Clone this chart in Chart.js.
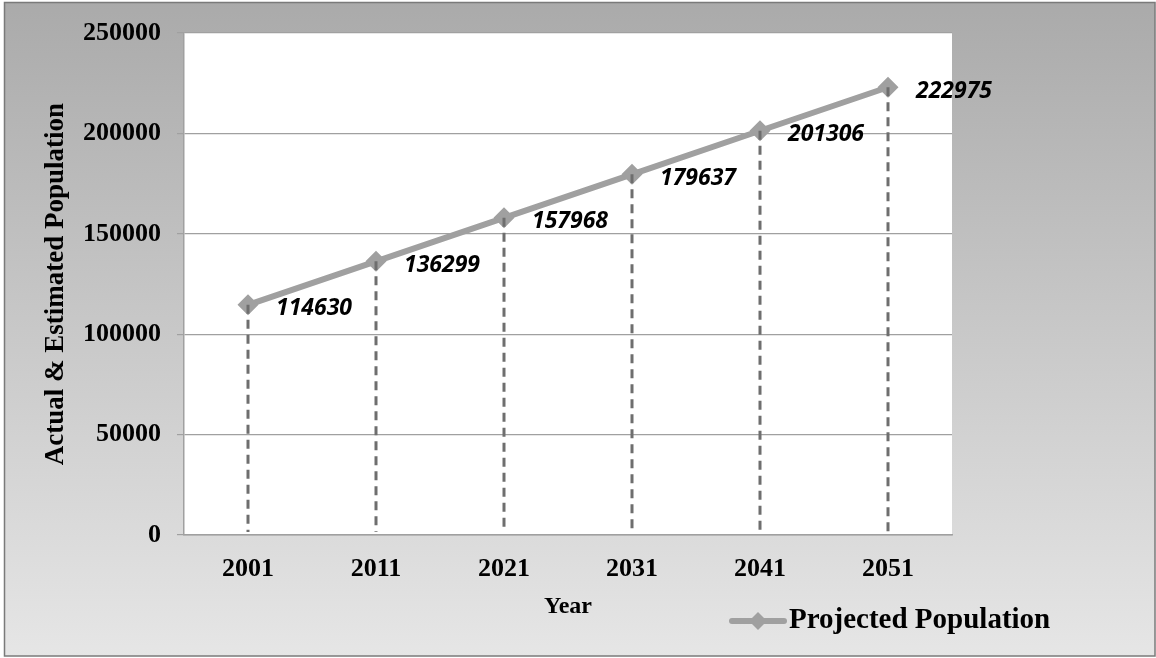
<!DOCTYPE html>
<html>
<head>
<meta charset="utf-8">
<title>Projected Population</title>
<script src="https://cdn.jsdelivr.net/npm/chart.js@4.4.0/dist/chart.umd.min.js"></script>
<style>
  html, body { margin: 0; padding: 0; background: #fff; }
  #wrap { width: 1156px; height: 658px; }
</style>
</head>
<body>
<div id="wrap"><canvas id="popChart" width="1156" height="658"></canvas></div>
<script>
// Census year and projected values
const years = ['2001', '2011', '2021', '2031', '2041', '2051'];
const population = [114630, 136299, 157968, 179637, 201306, 222975];
const yTicks = [0, 50000, 100000, 150000, 200000, 250000];
const seriesName = 'Projected Population';
const yTitle = 'Actual & Estimated Population';
const xTitle = 'Year';

const serif = '"Liberation Serif", "Times New Roman", serif';
const lineGray = '#a0a0a0';
const dropGray = '#6e6e6e';

// Gray gradient panel with a thin frame, white plot area
const framePlugin = {
    id: 'framePlugin',
    beforeDraw(chart) {
        const ctx = chart.ctx;
        const area = chart.chartArea;
        ctx.save();
        ctx.fillStyle = '#ffffff';
        ctx.fillRect(0, 0, chart.width, chart.height);
        const grad = ctx.createLinearGradient(0, 0, 0, chart.height);
        grad.addColorStop(0, '#aaaaaa');
        grad.addColorStop(1, '#e6e6e6');
        ctx.fillStyle = grad;
        ctx.fillRect(4, 2, chart.width - 5, chart.height - 4);
        ctx.strokeStyle = '#7a7a7a';
        ctx.lineWidth = 1.5;
        ctx.strokeRect(4.5, 2.5, chart.width - 5.5, chart.height - 4.5);
        ctx.fillStyle = '#ffffff';
        ctx.fillRect(area.left, area.top, area.right - area.left, area.bottom - area.top);
        ctx.restore();
    }
};

// Dashed drop lines and value labels
const dropLinePlugin = {
    id: 'dropLinePlugin',
    afterDatasetsDraw(chart) {
        const ctx = chart.ctx;
        const meta = chart.getDatasetMeta(0);
        const bottom = chart.scales.y.getPixelForValue(0);
        ctx.save();
        ctx.strokeStyle = dropGray;
        ctx.lineWidth = 3;
        ctx.setLineDash([9, 6]);
        meta.data.forEach(pt => {
            ctx.beginPath();
            ctx.moveTo(pt.x, pt.y);
            ctx.lineTo(pt.x, bottom - 3);
            ctx.stroke();
        });
        ctx.setLineDash([]);
        ctx.fillStyle = '#000';
        ctx.font = 'italic 700 23px "Open Sans", sans-serif';
        ctx.textBaseline = 'middle';
        ctx.textAlign = 'left';
        meta.data.forEach((pt, i) => {
            ctx.fillText(String(population[i]), pt.x + 28, pt.y + 4);
        });
        ctx.restore();
    }
};

// Legend entry drawn at the lower right
const legendPlugin = {
    id: 'legendPlugin',
    afterDraw(chart) {
        const ctx = chart.ctx;
        const y = 621;
        ctx.save();
        ctx.strokeStyle = lineGray;
        ctx.lineWidth = 6;
        ctx.lineCap = 'round';
        ctx.beginPath();
        ctx.moveTo(732, y);
        ctx.lineTo(784, y);
        ctx.stroke();
        ctx.fillStyle = lineGray;
        ctx.beginPath();
        ctx.moveTo(758, y - 9);
        ctx.lineTo(767, y);
        ctx.lineTo(758, y + 9);
        ctx.lineTo(749, y);
        ctx.closePath();
        ctx.fill();
        ctx.fillStyle = '#000';
        ctx.font = 'bold 29px ' + serif;
        ctx.textBaseline = 'middle';
        ctx.fillText(seriesName, 789, y);
        ctx.restore();
    }
};

new Chart(document.getElementById('popChart'), {
    type: 'line',
    data: {
        labels: years,
        datasets: [{
            label: seriesName,
            data: population,
            borderColor: lineGray,
            backgroundColor: lineGray,
            borderWidth: 6,
            pointStyle: 'rectRot',
            pointRadius: 10.5,
            pointHoverRadius: 10.5,
            pointBorderWidth: 0,
            tension: 0
        }]
    },
    options: {
        responsive: false,
        animation: false,
        devicePixelRatio: 1,
        layout: { padding: { left: 0, top: 33, right: 204, bottom: 0 } },
        plugins: {
            legend: { display: false },
            tooltip: { enabled: false }
        },
        scales: {
            x: {
                offset: true,
                grid: { display: false, drawTicks: false },
                border: { display: true, color: lineGray, width: 1.5 },
                ticks: {
                    color: '#000',
                    font: { family: serif, size: 26, weight: 'bold' },
                    padding: 19,
                    maxRotation: 0
                },
                title: {
                    display: true,
                    text: xTitle,
                    color: '#000',
                    font: { family: serif, size: 24, weight: 'bold' },
                    padding: { top: 0, bottom: 37 }
                },
                afterFit(scale) { scale.height = 123; }
            },
            y: {
                min: 0,
                max: 250000,
                afterBuildTicks(scale) { scale.ticks = yTicks.map(v => ({ value: v })); },
                grid: { color: lineGray, lineWidth: 1.2, tickLength: 7, tickColor: lineGray },
                border: { display: true, color: lineGray, width: 1.5 },
                ticks: {
                    color: '#000',
                    font: { family: serif, size: 26, weight: 'bold' },
                    padding: 16,
                    callback: v => String(v)
                },
                title: {
                    display: true,
                    text: yTitle,
                    color: '#000',
                    font: { family: serif, size: 27, weight: 'bold' },
                    padding: { top: 40, bottom: 0 }
                },
                afterFit(scale) { scale.width = 184; }
            }
        }
    },
    plugins: [framePlugin, dropLinePlugin, legendPlugin]
});
</script>
</body>
</html>
